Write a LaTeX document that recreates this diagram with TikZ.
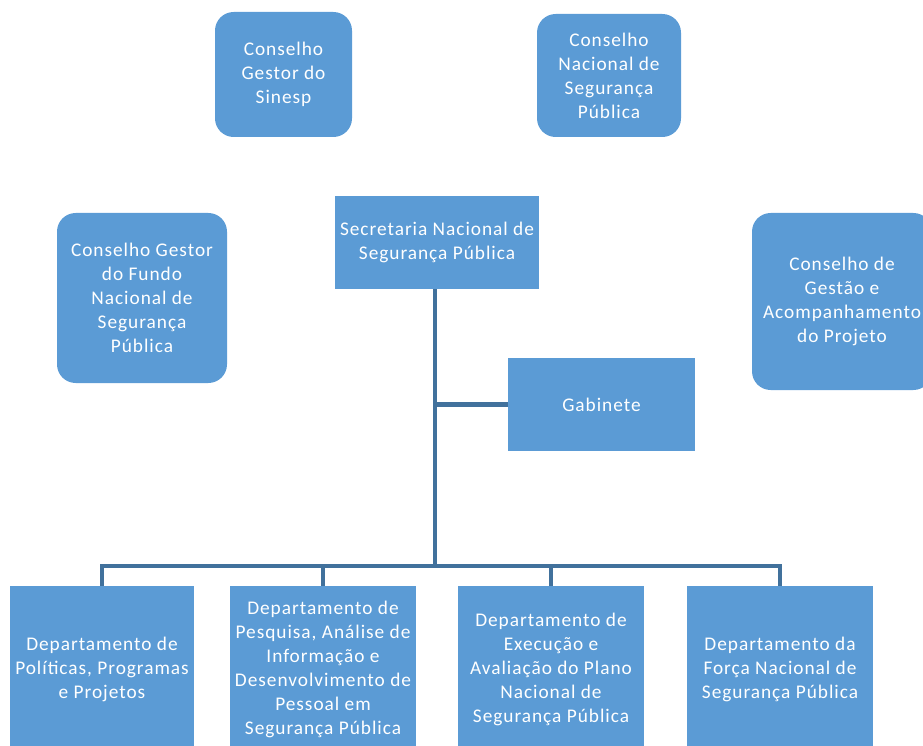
\documentclass[tikz,border=0pt]{standalone}
\usepackage{fontspec}
\setmainfont{Carlito}[LetterSpace=5]
\usepackage{xcolor}
\definecolor{boxblue}{HTML}{5B9BD5}
\definecolor{lineblue}{HTML}{41719C}

\tikzset{
	orgbox/.style={fill=boxblue, text=white, align=center, inner sep=2pt, font=\fontsize{14.5}{18}\selectfont},
	council/.style={orgbox, rounded corners=14pt},
	link/.style={draw=lineblue, line width=3.5pt}
}

\begin{document}
\begin{tikzpicture}[x=0.75pt, y=-0.75pt]
	\useasboundingbox (0,0) rectangle (923,745);
	\clip (0,0) rectangle (923,745);
	
	
	\node[council, minimum width=102.75pt, minimum height=93.75pt] (sinesp) at (283.5,74.5) {Conselho\\Gestor do\\Sinesp};
	\node[council, minimum width=108pt, minimum height=92.25pt] (cnsp) at (609,75.5) {Conselho\\Nacional de\\Segurança\\Pública};
	\node[council, minimum width=127.5pt, minimum height=127.5pt] (fundo) at (142,298) {Conselho Gestor\\do Fundo\\Nacional de\\Segurança\\Pública};
	\node[council, minimum width=135pt, minimum height=132.75pt] (gestao) at (842,301.5) {Conselho de\\Gestão e\\Acompanhamento\\do Projeto};
	
	
	\node[orgbox, minimum width=153pt, minimum height=69.75pt] (senasp) at (437,242.5) {Secretaria Nacional de\\Segurança Pública};
	\node[orgbox, minimum width=140.25pt, minimum height=69.75pt] (gab) at (601.5,404.5) {Gabinete};
	
	
	\node[orgbox, minimum width=138pt, minimum height=124.5pt] (dep1) at (102,669) {Departamento de\\Políticas, Programas\\e Projetos};
	\node[orgbox, minimum width=139.5pt, minimum height=124.5pt] (dep2) at (323,669) {Departamento de\\Pesquisa, Análise de\\Informação e\\Desenvolvimento de\\Pessoal em\\Segurança Pública};
	\node[orgbox, minimum width=139.5pt, minimum height=124.5pt] (dep3) at (551,669) {Departamento de\\Execução e\\Avaliação do Plano\\Nacional de\\Segurança Pública};
	\node[orgbox, minimum width=139.5pt, minimum height=124.5pt] (dep4) at (780,669) {Departamento da\\Força Nacional de\\Segurança Pública};
	
	
	\coordinate (bus) at (435,566);
	\draw[link] (senasp.south -| bus) -- (bus);
	\draw[link] (bus |- gab.west) -- (gab.west);
	\draw[link] (dep1.north) -- (dep1.north |- bus) -- (dep4.north |- bus) -- (dep4.north);
	\draw[link] (dep2.north |- bus) -- (dep2.north);
	\draw[link] (dep3.north |- bus) -- (dep3.north);
\end{tikzpicture}
\end{document}
